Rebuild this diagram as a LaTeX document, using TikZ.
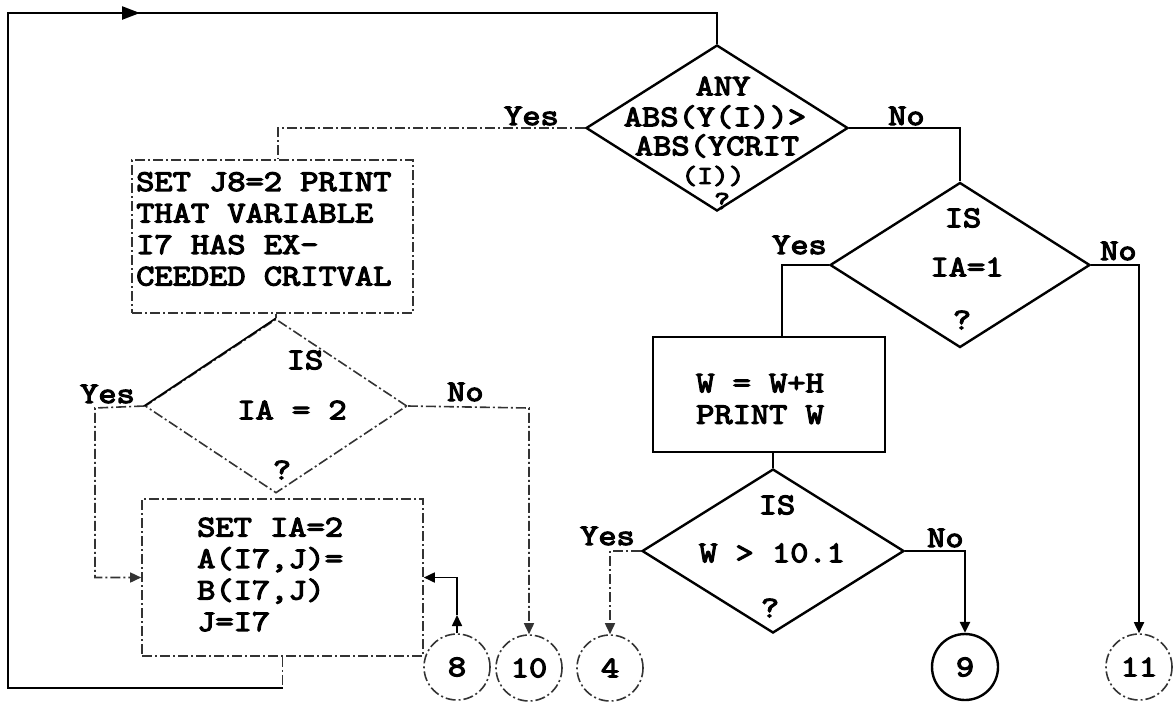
\documentclass[tikz,border=0pt]{standalone}
\usepackage{fontspec}
\newfontfamily\chartfont{Latin Modern Mono}[FakeBold=4,FakeStretch=1.18]
\usetikzlibrary{shapes.geometric,arrows.meta}

\tikzset{
  chart line/.style={line width=2.4pt,draw=black},
  chart thin/.style={line width=1.7pt,draw=black},
  chart faded/.style={line width=1.6pt,draw=black!80,dash pattern=on 10pt off 3pt on 2pt off 3pt},
  chart test/.style={diamond,inner sep=0pt,minimum width=262pt,minimum height=166pt},
  chart box/.style={rectangle,inner sep=0pt},
  chart link/.style={circle,inner sep=0pt,minimum size=66pt,font=\chartfont\fontsize{30}{31}\selectfont},
  chart text/.style={inner sep=0pt,font=\chartfont\fontsize{30}{31.5}\selectfont,align=left},
  chart answer/.style={inner sep=0pt,font=\chartfont\fontsize{30}{31}\selectfont},
  chart arrow/.style={-{Triangle[length=11pt,width=10pt]}}
}

\begin{document}
\begin{tikzpicture}[x=1pt,y=-1pt]
  \useasboundingbox (0,0) rectangle (1174,702);

  % decisions
  \node[chart test,chart line] (any) at (717,128) {};
  \node[chart answer] (anyl1) at (723,86) {ANY};
  \node[chart answer] (anyl2) at (715,117) {ABS(Y(I))>};
  \node[chart answer] (anyl3) at (717,146) {ABS(YCRIT};
  \node[chart answer,font=\chartfont\fontsize{26}{27}\selectfont] (anyl4) at (713,176) {(I))};
  \node[chart answer,font=\chartfont\fontsize{26}{27}\selectfont] (anyl5) at (722,201) {?};

  \node[chart test,chart line,minimum height=165pt,minimum width=260pt] (onetest) at (960,265) {};
  \node[chart answer] (onel1) at (963,218) {IS};
  \node[chart answer] (onel2) at (967,267) {IA=1};
  \node[chart answer] (onel3) at (962,320) {?};

  \node[chart test,chart faded,minimum height=174pt] (twotest) at (276,406) {};
  \draw[chart thin] (twotest.west) -- (twotest.north);
  \node[chart answer] (twol1) at (305,360) {IS};
  \node[chart answer] (twol2) at (292,410) {IA = 2};
  \node[chart answer] (twol3) at (282,470) {?};

  \node[chart test,chart line,minimum height=164pt] (wtest) at (773,551) {};
  \node[chart answer] (wl1) at (777,505) {IS};
  \node[chart answer] (wl2) at (772,553) {W > 10.1};
  \node[chart answer] (wl3) at (770,608) {?};

  % process boxes
  \node[chart box,chart faded,minimum width=281pt,minimum height=153pt] (warn) at (272.5,236.5) {};
  \node[chart text,anchor=west] (warntxt) at (136,229) {SET J8=2 PRINT\\THAT VARIABLE\\I7 HAS EX-\\CEEDED CRITVAL};

  \node[chart box,chart faded,minimum width=281pt,minimum height=157pt] (reset) at (282.5,577.5) {};
  \node[chart text,anchor=west] (resettxt) at (197,574.5) {SET IA=2\\A(I7,J)=\\B(I7,J)\\J=I7};

  \node[chart box,chart line,minimum width=232pt,minimum height=115pt] (step) at (769,394.5) {};
  \node[chart text,align=left] (steptxt) at (760,399) {W = W+H\\PRINT W};

  % connectors
  \node[chart link,chart faded] (eight) at (457,667) {8};
  \node[chart link,chart faded] (ten) at (529,668) {10};
  \node[chart link,chart faded] (four) at (610,668) {4};
  \node[chart link,chart line] (nine) at (965,667) {9};
  \node[chart link,chart faded] (eleven) at (1139,667) {11};

  % loop back to the top
  \coordinate (loopbr) at (283,688);
  \coordinate (loopbl) at (8,688);
  \coordinate (looptl) at (8,13);
  \coordinate (looptr) at (717,13);
  \coordinate (looptip) at (140,13);
  \draw[chart faded] (reset.south) -- (reset.south |- loopbr);
  \draw[chart line] (reset.south |- loopbr) -- (loopbl) -- (looptl) -- (looptr) -- (any.north);
  \draw[chart line,-{Triangle[length=18pt,width=13pt]}] (looptl) -- (looptip);

  % first test
  \coordinate (anyyes) at (278,128);
  \draw[chart faded] (any.west) -- (anyyes) -- (anyyes |- warn.north);
  \node[chart answer,anchor=base east] (anyyeslbl) at (559,125) {Yes};
  \draw[chart line] (any.east) -| (onetest.north);
  \node[chart answer,anchor=base west] (anynolbl) at (888,125) {No};

  % IA=2 test
  \draw[chart faded] (warn.south -| twotest.north) -- (twotest.north);
  \coordinate (twoyes) at (95,408);
  \draw[chart faded,chart arrow] (twotest.west) -- (twoyes) |- (reset.west);
  \node[chart answer,anchor=base east] (twoyeslbl) at (135,403) {Yes};
  \coordinate (twono) at (529,408);
  \draw[chart faded,chart arrow] (twotest.east) -- (twono) -- (ten.north);
  \node[chart answer,anchor=base west] (twonolbl) at (447,401) {No};

  \coordinate (eightup) at (457,615);
  \draw[chart thin,chart arrow] (eight.north) -- (eightup);
  \draw[chart thin,chart arrow] (eightup) |- (reset.east);

  % IA=1 test
  \coordinate (oneyes) at (782,265);
  \draw[chart line] (onetest.west) -- (oneyes) -- (oneyes |- step.north);
  \node[chart answer,anchor=base east] (oneyeslbl) at (827,254) {Yes};
  \coordinate (oneno) at (1139,265);
  \draw[chart thin,chart arrow] (onetest.east) -- (oneno) -- (eleven.north);
  \node[chart answer,anchor=base west] (onenolbl) at (1100,260) {No};

  % W test
  \draw[chart line] (step.south -| wtest.north) -- (wtest.north);
  \coordinate (wyes) at (610,551);
  \draw[chart faded,chart arrow] (wtest.west) -- (wyes) -- (four.north);
  \node[chart answer,anchor=base east] (wyeslbl) at (635,545) {Yes};
  \coordinate (wno) at (965,551);
  \draw[chart line,chart arrow] (wtest.east) -- (wno) -- (nine.north);
  \node[chart answer,anchor=base west] (wnolbl) at (927,547) {No};
\end{tikzpicture}
\end{document}
